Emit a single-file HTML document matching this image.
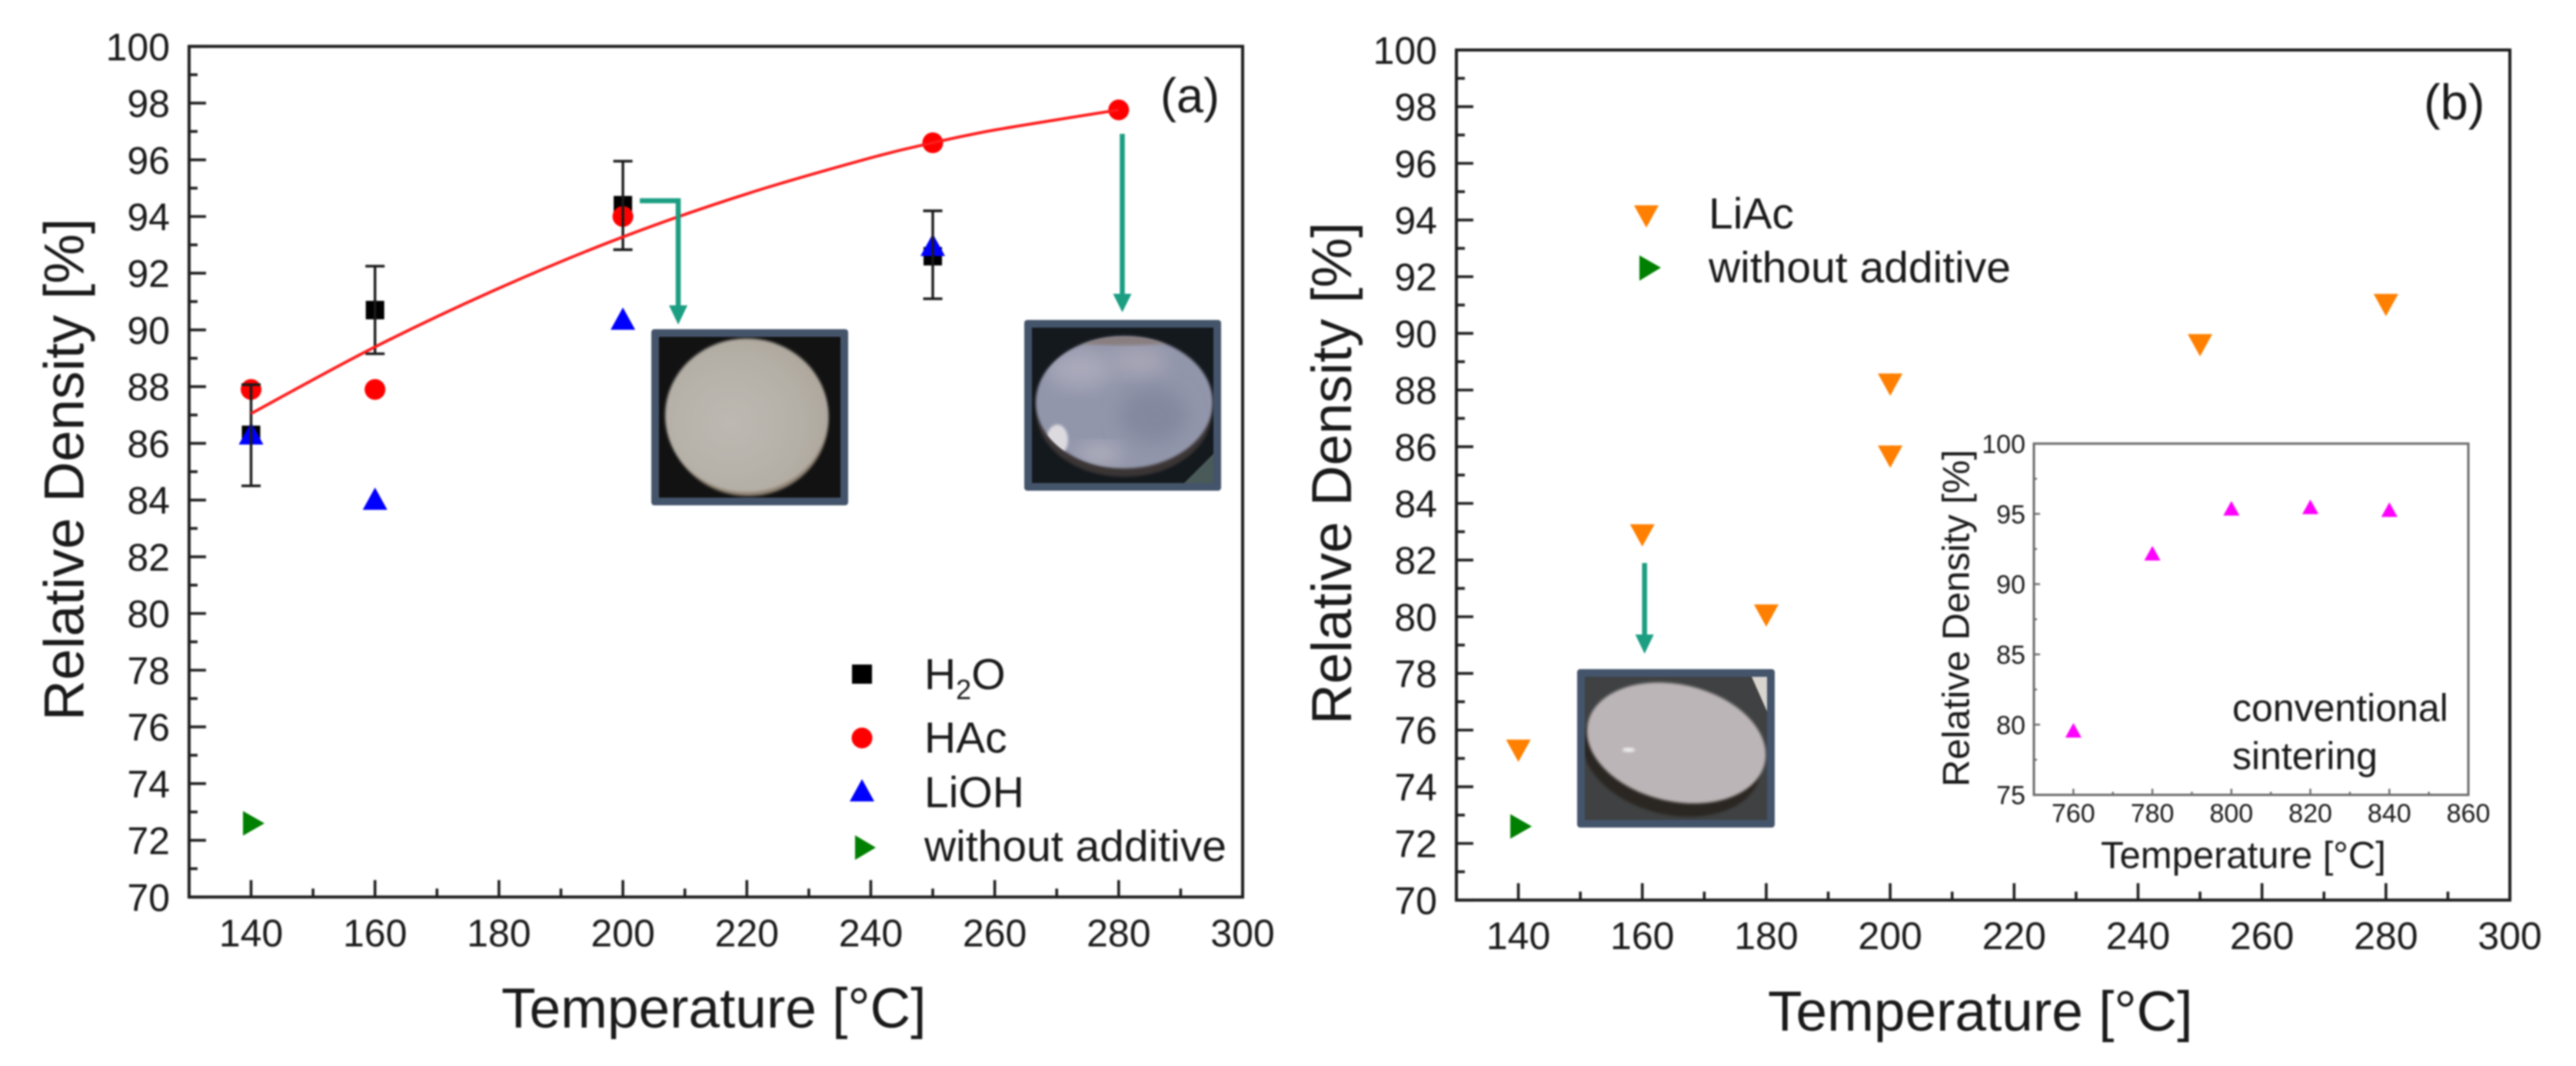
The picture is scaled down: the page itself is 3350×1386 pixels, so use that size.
<!DOCTYPE html>
<html lang="en">
<head>
<meta charset="utf-8">
<title>Relative density vs temperature</title>
<style>
html,body{margin:0;padding:0;background:#fff;width:3350px;height:1386px;overflow:hidden}
svg{display:block;filter:blur(1px)}
text{font-family:"Liberation Sans",Arial,sans-serif;fill:#1a1a1a}
</style>
</head>
<body>
<svg id="figure" xmlns="http://www.w3.org/2000/svg" width="3350" height="1386" viewBox="0 0 3350 1386">
  <defs>
    <filter id="soft" x="-30%" y="-30%" width="160%" height="160%"><feGaussianBlur stdDeviation="12"/></filter>
    <filter id="soft2" x="-10%" y="-10%" width="120%" height="120%"><feGaussianBlur stdDeviation="1.5"/></filter>
    <clipPath id="clipA1"><rect x="857" y="438" width="236" height="209"/></clipPath>
    <clipPath id="clipA2"><rect x="1342" y="426" width="236" height="202"/></clipPath>
    <clipPath id="clipB"><rect x="2061" y="880" width="237" height="186"/></clipPath>
    <clipPath id="discA2"><ellipse cx="1462" cy="523" rx="115" ry="86"/></clipPath>
    <radialGradient id="gradA1" cx="40%" cy="55%" r="65%"><stop offset="0" stop-color="#bdb9b2"/><stop offset="0.7" stop-color="#b4afa6"/><stop offset="1" stop-color="#aca59b"/></radialGradient>
  </defs>
  <rect width="3350" height="1386" fill="#ffffff"/>

  <g id="panelA"></g>
  <g id="panelB"></g>

  <g>
    <rect x="847" y="428" width="256" height="229" rx="4" fill="#44546a"/>
    <g clip-path="url(#clipA1)">
      <rect x="857" y="438" width="236" height="209" fill="#121212"/>
      <ellipse cx="973" cy="546" rx="104" ry="99" fill="#8f8272" filter="url(#soft2)"/>
      <ellipse cx="971" cy="540" rx="106" ry="100" fill="url(#gradA1)" filter="url(#soft2)"/>
    </g>
  </g>
  <g>
    <rect x="1332" y="416" width="256" height="222" rx="4" fill="#44546a"/>
    <g clip-path="url(#clipA2)">
      <rect x="1342" y="426" width="236" height="202" fill="#14191d"/>
      <polygon points="1540,628 1578,590 1578,628" fill="#4a5a58"/>
      <ellipse cx="1462" cy="536" rx="114" ry="84" fill="#3a3436" filter="url(#soft2)"/>
      <ellipse cx="1462" cy="523" rx="115" ry="86" fill="#9296ab" filter="url(#soft2)"/>
      <g clip-path="url(#discA2)">
        <ellipse cx="1405" cy="480" rx="42" ry="24" fill="#a9a9ba" filter="url(#soft)"/>
        <ellipse cx="1480" cy="470" rx="36" ry="18" fill="#a8a6b6" filter="url(#soft)"/>
        <ellipse cx="1375" cy="572" rx="14" ry="20" fill="#dcdadf" filter="url(#soft2)"/>
        <ellipse cx="1430" cy="590" rx="30" ry="12" fill="#b2b1be" filter="url(#soft)"/>
        <ellipse cx="1500" cy="540" rx="44" ry="36" fill="#83889f" filter="url(#soft)"/>
        <ellipse cx="1460" cy="443" rx="70" ry="6" fill="#8a7f80" filter="url(#soft2)"/>
      </g>
    </g>
  </g>
  <g>
    <rect x="2051" y="870" width="257" height="206" rx="4" fill="#44546a"/>
    <g clip-path="url(#clipB)">
      <rect x="2061" y="880" width="237" height="186" fill="#3f4142"/>
      <polygon points="2278,880 2298,880 2298,925" fill="#d8d4ce"/>
      <ellipse cx="2174" cy="981" rx="118" ry="78" transform="rotate(14 2174 981)" fill="#2a2624" filter="url(#soft2)"/>
      <ellipse cx="2180" cy="966" rx="118" ry="76" transform="rotate(13 2180 966)" fill="#bcb5b7" filter="url(#soft2)"/>
      <ellipse cx="2118" cy="975" rx="8" ry="3" fill="#eeeeee" filter="url(#soft2)"/>
    </g>
  </g>

  <g>
    <polyline points="832,261 882,261 882,400" fill="none" stroke="#1b9e82" stroke-width="6.5"/>
    <polygon points="870,397 894,397 882,422" fill="#1b9e82"/>
  </g>
  <g>
    <line x1="1459.5" y1="174" x2="1459.5" y2="385" stroke="#1b9e82" stroke-width="6.5"/>
    <polygon points="1447.5,382 1471.5,382 1459.5,406" fill="#1b9e82"/>
  </g>
  <g>
    <line x1="2138.7" y1="732" x2="2138.7" y2="828" stroke="#1b9e82" stroke-width="6.5"/>
    <polygon points="2126.7,825 2150.7,825 2138.7,850" fill="#1b9e82"/>
  </g>

  <text x="1509" y="146" font-size="63">(a)</text>
  <text x="3152" y="155" font-size="65">(b)</text>

  <text x="652" y="1336" font-size="73">Temperature [°C]</text>
  <text transform="translate(108.5 937) rotate(-90)" font-size="73">Relative Density [%]</text>
  <text x="2299" y="1340" font-size="73">Temperature [°C]</text>
  <text transform="translate(1757 942) rotate(-90)" font-size="73">Relative Density [%]</text>
  <text x="2732" y="1128.5" font-size="49">Temperature [°C]</text>
  <text transform="translate(2560.5 1023) rotate(-90)" font-size="49">Relative Density [%]</text>
  <text x="2903" y="937.5" font-size="50">conventional</text>
  <text x="2903" y="1000" font-size="50">sintering</text>

  <g>
    <rect x="1108" y="864" width="26" height="25" fill="#000"/>
    <text x="1202" y="896" font-size="57">H<tspan font-size="36" dy="13">2</tspan><tspan font-size="57" dy="-13">O</tspan></text>
    <circle cx="1121" cy="959.5" r="13.5" fill="#ff0000"/>
    <text x="1202" y="978.5" font-size="57">HAc</text>
    <polygon points="1105,1042 1137,1042 1121,1013" fill="#0000ff"/>
    <text x="1202" y="1049.5" font-size="57">LiOH</text>
    <polygon points="1112,1086 1139,1102 1112,1118" fill="#008000"/>
    <text x="1202" y="1119.5" font-size="57">without additive</text>
  </g>
  <g>
    <polygon points="2125,267 2157,267 2141,296" fill="#ff7f00"/>
    <text x="2222" y="297" font-size="57">LiAc</text>
    <polygon points="2132,332 2160,348 2132,365" fill="#008000"/>
    <text x="2222" y="367" font-size="57">without additive</text>
  </g>
</svg>
<script>
// Axis tick values
const mainXTicks = [140, 160, 180, 200, 220, 240, 260, 280, 300];
const mainXMinor = [150, 170, 190, 210, 230, 250, 270, 290];
const mainYTicks = [70, 72, 74, 76, 78, 80, 82, 84, 86, 88, 90, 92, 94, 96, 98, 100];
const mainYMinor = [71, 73, 75, 77, 79, 81, 83, 85, 87, 89, 91, 93, 95, 97, 99];
const insetXTicks = [760, 780, 800, 820, 840, 860];
const insetXMinor = [770, 790, 810, 830, 850];
const insetYTicks = [75, 80, 85, 90, 95, 100];
const insetYMinor = [77.5, 82.5, 87.5, 92.5, 97.5];

// Panel (a) series
const h2oTemps = [140, 160, 200, 250];
const h2oValues = [86.3, 90.7, 94.4, 92.6];
const h2oErrLow = [84.5, 89.16, 92.83, 91.1];
const h2oErrHigh = [88.07, 92.25, 95.95, 94.2];
const hacTemps = [140, 160, 200, 250, 280];
const hacValues = [87.9, 87.9, 94.0, 96.6, 97.76];
const liohTemps = [140, 160, 200, 250];
const liohValues = [86.35, 84.05, 90.4, 93.0];
const noAdditiveTemps = [140];
const noAdditiveValues = [72.6];
const fitTemps = [140, 160, 180, 200, 220, 240, 250, 260, 280];
const fitValues = [87.05, 89.4, 91.47, 93.28, 94.8, 96.07, 96.6, 97.05, 97.76];

// Panel (b) series
const liacTemps = [140, 160, 180, 200, 200, 250, 280];
const liacValues = [75.27, 82.87, 80.04, 88.19, 85.65, 89.58, 91.0];

// Inset series
const insetTemps = [760, 780, 800, 820, 840];
const insetValues = [79.6, 92.2, 95.4, 95.5, 95.3];

const NS = 'http://www.w3.org/2000/svg';
function mk(parent, tag, attrs) {
  const el = document.createElementNS(NS, tag);
  for (const k in attrs) el.setAttribute(k, attrs[k]);
  parent.appendChild(el);
  return el;
}
function scale(d0, d1, p0, p1) { return v => p0 + (v - d0) * (p1 - p0) / (d1 - d0); }

const xA = scale(130, 300, 245.9, 1616);
const yA = scale(70, 100, 1166.3, 60.3);
const xB = scale(130, 300, 1894, 3264);
const yB = scale(70, 100, 1170.3, 65);
const xI = scale(750, 860, 2645, 3210);
const yI = scale(75, 100, 1033.5, 576.8);

function drawAxes(g, name, x, y, xDom, yDom, o) {
  const frame = mk(g, 'rect', {x: x(xDom[0]), y: y(yDom[1]), width: x(xDom[1]) - x(xDom[0]), height: y(yDom[0]) - y(yDom[1]), fill: 'none', stroke: o.color, 'stroke-width': o.sw});
  
  
  o.xTicks.forEach(v => {
    const t = mk(g, 'line', {x1: x(v), x2: x(v), y1: y(yDom[0]), y2: y(yDom[0]) - o.major, stroke: o.color, 'stroke-width': o.tw});
    
    
    const l = mk(g, 'text', {x: x(v), y: o.xBase, 'text-anchor': 'middle', 'font-size': o.fs});
    
    
    l.textContent = v;
  });
  o.xMinor.forEach(v => {
    const t = mk(g, 'line', {x1: x(v), x2: x(v), y1: y(yDom[0]), y2: y(yDom[0]) - o.minor, stroke: o.color, 'stroke-width': o.tw});
    
    
  });
  o.yTicks.forEach(v => {
    const t = mk(g, 'line', {x1: x(xDom[0]), x2: x(xDom[0]) + o.major, y1: y(v), y2: y(v), stroke: o.color, 'stroke-width': o.tw});
    
    
    const l = mk(g, 'text', {x: o.yRight, y: y(v) + o.fs * 0.36, 'text-anchor': 'end', 'font-size': o.fs});
    
    
    l.textContent = v;
  });
  o.yMinor.forEach(v => {
    const t = mk(g, 'line', {x1: x(xDom[0]), x2: x(xDom[0]) + o.minor, y1: y(v), y2: y(v), stroke: o.color, 'stroke-width': o.tw});
    
    
  });
}

function triangle(cx, cy, dir, w, h) {
  if (dir === 'up') return [[cx - w / 2, cy + h / 2], [cx + w / 2, cy + h / 2], [cx, cy - h / 2]];
  if (dir === 'down') return [[cx - w / 2, cy - h / 2], [cx + w / 2, cy - h / 2], [cx, cy + h / 2]];
  return [[cx - w / 2, cy - h / 2], [cx + w / 2, cy], [cx - w / 2, cy + h / 2]];
}
function ptsAttr(p) { return p.map(q => q.join(',')).join(' '); }

const panelA = document.getElementById('panelA');
const panelB = document.getElementById('panelB');

drawAxes(panelA, 'panel-a', xA, yA, [130, 300], [70, 100], {
  color: '#1e1e1e', sw: 4, tw: 3.6, major: 22, minor: 11, fs: 50,
  xTicks: mainXTicks, xMinor: mainXMinor, yTicks: mainYTicks, yMinor: mainYMinor,
  xBase: 1230.5, yRight: 221
});
drawAxes(panelB, 'panel-b', xB, yB, [130, 300], [70, 100], {
  color: '#1e1e1e', sw: 4, tw: 3.6, major: 22, minor: 11, fs: 50,
  xTicks: mainXTicks, xMinor: mainXMinor, yTicks: mainYTicks, yMinor: mainYMinor,
  xBase: 1234, yRight: 1869
});
drawAxes(panelB, 'inset', xI, yI, [750, 860], [75, 100], {
  color: '#6a6a6a', sw: 3, tw: 2.4, major: 8, minor: 4, fs: 34,
  xTicks: insetXTicks, xMinor: insetXMinor, yTicks: insetYTicks, yMinor: insetYMinor,
  xBase: 1069, yRight: 2634
});

// Panel (a) marks: squares, circles, triangles, then error bars on top
h2oTemps.forEach((t, i) => {
  const m = mk(panelA, 'rect', {x: xA(t) - 12, y: yA(h2oValues[i]) - 12, width: 24, height: 24, fill: '#000'});
  
  
});
hacTemps.forEach((t, i) => {
  const m = mk(panelA, 'circle', {cx: xA(t), cy: yA(hacValues[i]), r: 13.5, fill: '#ff0000'});
  
  
});
liohTemps.forEach((t, i) => {
  const m = mk(panelA, 'polygon', {points: ptsAttr(triangle(xA(t), yA(liohValues[i]), 'up', 32, 29)), fill: '#0000ff'});
  
  
});
noAdditiveTemps.forEach((t, i) => {
  const m = mk(panelA, 'polygon', {points: ptsAttr(triangle(xA(t) + 3.5, yA(noAdditiveValues[i]), 'right', 28, 32)), fill: '#008000'});
  
  
});
h2oTemps.forEach((t, i) => {
  const cx = xA(t);
  const d = 'M' + cx + ' ' + yA(h2oErrLow[i]) + 'V' + yA(h2oErrHigh[i]) +
    'M' + (cx - 12.5) + ' ' + yA(h2oErrLow[i]) + 'h25' +
    'M' + (cx - 12.5) + ' ' + yA(h2oErrHigh[i]) + 'h25';
  const e = mk(panelA, 'path', {d: d, fill: 'none', stroke: '#1a1a1a', 'stroke-width': 3.4});
  
  
});

// Fit curve through the read values (Catmull-Rom smoothing)
const fitPts = fitTemps.map((t, i) => [xA(t), yA(fitValues[i])]);
let fitD = 'M' + fitPts[0][0] + ' ' + fitPts[0][1];
for (let i = 0; i < fitPts.length - 1; i++) {
  const p0 = fitPts[Math.max(i - 1, 0)], p1 = fitPts[i], p2 = fitPts[i + 1], p3 = fitPts[Math.min(i + 2, fitPts.length - 1)];
  fitD += 'C' + (p1[0] + (p2[0] - p0[0]) / 6) + ' ' + (p1[1] + (p2[1] - p0[1]) / 6) + ' ' +
    (p2[0] - (p3[0] - p1[0]) / 6) + ' ' + (p2[1] - (p3[1] - p1[1]) / 6) + ' ' + p2[0] + ' ' + p2[1];
}
const fitLine = mk(panelA, 'path', {d: fitD, fill: 'none', stroke: '#ff1a1a', 'stroke-width': 3.8});



// Panel (b) marks
liacTemps.forEach((t, i) => {
  const m = mk(panelB, 'polygon', {points: ptsAttr(triangle(xB(t), yB(liacValues[i]), 'down', 32, 29)), fill: '#ff7f00'});
  
  
});
noAdditiveTemps.forEach((t, i) => {
  const m = mk(panelB, 'polygon', {points: ptsAttr(triangle(xB(t) + 3.5, yB(noAdditiveValues[i]), 'right', 28, 32)), fill: '#008000'});
  
  
});
insetTemps.forEach((t, i) => {
  const m = mk(panelB, 'polygon', {points: ptsAttr(triangle(xI(t), yI(insetValues[i]), 'up', 21, 19)), fill: '#ff00ff'});
  
  
});
</script>
</body>
</html>
